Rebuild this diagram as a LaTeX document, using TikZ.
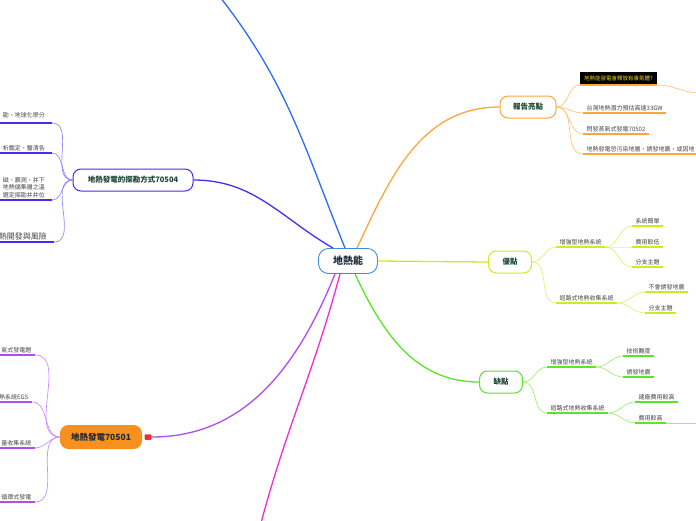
\documentclass[tikz,border=0pt]{standalone}
\usepackage{fontspec}
\setmainfont{Noto Sans CJK TC}
\usetikzlibrary{positioning, backgrounds}
\definecolor{GEblue}{HTML}{2B6CF6}
\definecolor{GEcentre}{HTML}{3F8DD6}
\definecolor{GEorange}{HTML}{FFA53A}
\definecolor{GEorangeL}{HTML}{FFC57A}
\definecolor{GElime}{HTML}{CDEB1E}
\definecolor{GElimeL}{HTML}{DDF27A}
\definecolor{GEgreen}{HTML}{58E62A}
\definecolor{GEgreenL}{HTML}{9CF07A}
\definecolor{GEviolet}{HTML}{4B2BF0}
\definecolor{GEvioletL}{HTML}{9488FF}
\definecolor{GEpurple}{HTML}{B04CF5}
\definecolor{GEpurpleL}{HTML}{C690FF}
\definecolor{GEmagenta}{HTML}{F52AD8}
\definecolor{GEfill}{HTML}{F6901E}
\definecolor{GEink}{HTML}{1E2A3A}
\definecolor{GEteal}{HTML}{1B4433}
\definecolor{GEgray}{HTML}{444444}
\definecolor{GEred}{HTML}{E8303A}
\definecolor{GEyellow}{HTML}{F2D21B}
\tikzset{
  gemain/.style={
    rectangle, rounded corners=10pt, draw=GEcentre, line width=0.9pt,
    fill=white, text=GEink, font=\fontsize{10}{12}\selectfont\bfseries,
    minimum width=59pt, minimum height=25pt},
  gebranch/.style={
    rectangle, rounded corners=8pt, draw=#1, line width=1pt, fill=white,
    text=GEteal, font=\fontsize{7.5}{9}\selectfont\bfseries, minimum height=22pt},
  gehot/.style={gebranch=GEfill, fill=GEfill, text=GEink,
    font=\fontsize{8.5}{10}\selectfont\bfseries},
  gebadge/.style={rectangle, rounded corners=1pt, fill=GEred, minimum width=7pt,
    minimum height=5.5pt, inner sep=0pt},
  gewarn/.style={fill=black, text=GEyellow, font=\fontsize{5.5}{7}\selectfont,
    inner xsep=4pt, inner ysep=4pt, anchor=south west},
  geleaf/.style={
    font=\fontsize{6}{7.5}\selectfont, text=GEgray, inner xsep=3.5pt, inner ysep=2pt,
    align=left,
    append after command={(\tikzlastnode.south west) edge[draw=#1, line width=1.5pt]
      (\tikzlastnode.south east)}},
  geleft/.style={geleaf=#1, anchor=south east, inner xsep=7pt},
  gelink/.style={draw=#1, line width=1.3pt},
  gesub/.style={draw=#1, line width=0.7pt},
}

\begin{document}
\begin{tikzpicture}[x=1pt, y=-1pt]
  \useasboundingbox (0,0) rectangle (696,520);
  % centre and main topics
  \node[gemain] (cen) at (348,261) {地熱能};
  \node[gebranch=GEorange, minimum width=56pt] (rep) at (528,107) {報告亮點};
  \node[gebranch=GElime, minimum width=43pt] (adv) at (510,262) {優點};
  \node[gebranch=GEgreen, minimum width=43pt] (dis) at (501,382) {缺點};
  \node[gebranch=GEviolet, minimum width=120pt] (survey) at (133,180) {地熱發電的探勘方式70504};
  \node[gehot, minimum width=81pt, minimum height=23pt] (plant) at (101,437) {地熱發電70501};
  \node[gebadge] (plantbadge) at (148,437) {};
  \coordinate (bluetop) at (220,-3);
  \coordinate (magbot) at (261,523);

  % 報告亮點
  \node[gewarn] (toxic) at (580,85) {地熱能發電會釋放有毒氣體?};
  \draw[gesub=GEorange, line width=1.5pt] (toxic.south west) -- (toxic.south east);
  \coordinate (toxicnext) at (700,93);
  \node[geleaf=GEorange, anchor=south west] (tw) at (583,113) {台灣地熱潛力預估高達33GW};
  \node[geleaf=GEorange, anchor=south west] (flash) at (583,134) {閃發蒸氣式發電70502};
  \node[geleaf=GEorange, anchor=south west] (risk) at (583,154) {地熱發電恐污染地層、誘發地震，或因地};

  % 優點
  \node[geleaf=GElime, anchor=south west] (advegs) at (556,247) {增強型地熱系統};
  \node[geleaf=GElime, anchor=south west] (advsimple) at (632,226) {系統簡單};
  \node[geleaf=GElime, anchor=south west] (advcost) at (632,247) {費用較低};
  \node[geleaf=GElime, anchor=south west] (advtopic) at (632,267) {分支主題};
  \node[geleaf=GElime, anchor=south west] (advloop) at (556,303) {迴路式地熱收集系統};
  \node[geleaf=GElime, anchor=south west] (advquake) at (645,292) {不會誘發地震};
  \node[geleaf=GElime, anchor=south west] (advtopicb) at (645,313) {分支主題};

  % 缺點
  \node[geleaf=GEgreen, anchor=south west] (disegs) at (547,367) {增強型地熱系統};
  \node[geleaf=GEgreen, anchor=south west] (distech) at (623,356) {技術難度};
  \node[geleaf=GEgreen, anchor=south west] (disquake) at (623,377) {誘發地震};
  \node[geleaf=GEgreen, anchor=south west] (disloop) at (547,413) {迴路式地熱收集系統};
  \node[geleaf=GEgreen, anchor=south west] (disbuild) at (635,402) {建廠費用較高};
  \node[geleaf=GEgreen, anchor=south west] (discost) at (635,423) {費用較高};
  \coordinate (discostnext) at (700,423);

  % 探勘方式
  \node[geleft=GEviolet, inner ysep=5pt] (svgeo) at (52,123) {勘、地球化學分};
  \node[geleft=GEviolet] (svlab) at (52,153) {析鑑定，釐清各};
  \node[geleft=GEviolet] (svwell) at (52,200) {磁、震測、井下\\地熱儲集層之溫\\選定探勘井井位};
  \node[geleft=GEviolet, font=\fontsize{8}{9.5}\selectfont] (svrisk) at (54,242) {熱開發與風險};

  % 地熱發電
  \node[geleaf=GEpurple, anchor=south east] (pldry) at (35,355) {氣式發電題};
  \node[geleaf=GEpurple, anchor=south east] (plegs) at (32,402) {熱系統EGS};
  \node[geleaf=GEpurple, anchor=south east] (plloop) at (35,448) {量收集系統};
  \node[geleaf=GEpurple, anchor=south east] (plbin) at (35,502) {循環式發電};

  \begin{scope}[on background layer]
    \draw[gelink=GEblue] ([xshift=-3pt]cen.north) to[out=112,in=-52] (bluetop);
    \draw[gelink=GEviolet] ([xshift=-15pt]cen.north) to[out=150,in=0] (survey.east);
    \draw[gelink=GEorange] ([xshift=9pt]cen.north) to[out=65,in=180] (rep.west);
    \draw[gelink=GElime] (cen.east) -- (adv.west);
    \draw[gelink=GEgreen] ([xshift=7pt]cen.south) to[out=-65,in=180] (dis.west);
    \draw[gelink=GEpurple] ([xshift=-13pt]cen.south) to[out=-112,in=0] (plantbadge.east);
    \draw[gelink=GEmagenta] ([xshift=-8pt]cen.south) to[out=-105,in=75] (magbot);

    \draw[gesub=GEorangeL] (rep.east) to[out=0,in=180] (toxic.south west);
    \draw[gesub=GEorangeL] (rep.east) to[out=0,in=180] (tw.south west);
    \draw[gesub=GEorangeL] (rep.east) to[out=0,in=180] (flash.south west);
    \draw[gesub=GEorangeL] (rep.east) to[out=0,in=180] (risk.south west);
    \draw[gesub=GEorangeL] (toxic.south east) to[out=0,in=180] (toxicnext);

    \draw[gesub=GElimeL] (adv.east) to[out=0,in=180] (advegs.south west);
    \draw[gesub=GElimeL] (adv.east) to[out=0,in=180] (advloop.south west);
    \draw[gesub=GElimeL] (advegs.south east) to[out=0,in=180] (advsimple.south west);
    \draw[gesub=GElimeL] (advegs.south east) to[out=0,in=180] (advcost.south west);
    \draw[gesub=GElimeL] (advegs.south east) to[out=0,in=180] (advtopic.south west);
    \draw[gesub=GElimeL] (advloop.south east) to[out=0,in=180] (advquake.south west);
    \draw[gesub=GElimeL] (advloop.south east) to[out=0,in=180] (advtopicb.south west);

    \draw[gesub=GEgreenL] (dis.east) to[out=0,in=180] (disegs.south west);
    \draw[gesub=GEgreenL] (dis.east) to[out=0,in=180] (disloop.south west);
    \draw[gesub=GEgreenL] (disegs.south east) to[out=0,in=180] (distech.south west);
    \draw[gesub=GEgreenL] (disegs.south east) to[out=0,in=180] (disquake.south west);
    \draw[gesub=GEgreenL] (disloop.south east) to[out=0,in=180] (disbuild.south west);
    \draw[gesub=GEgreenL] (disloop.south east) to[out=0,in=180] (discost.south west);
    \draw[gesub=GEgreenL] (discost.south east) -- (discostnext);

    \draw[gesub=GEvioletL] (survey.west) to[out=180,in=0] (svgeo.south east);
    \draw[gesub=GEvioletL] (survey.west) to[out=180,in=0] (svlab.south east);
    \draw[gesub=GEvioletL] (survey.west) to[out=180,in=0] (svwell.south east);
    \draw[gesub=GEvioletL] (survey.west) to[out=180,in=0] (svrisk.south east);

    \draw[gesub=GEpurpleL] (plant.west) to[out=180,in=0] (pldry.south east);
    \draw[gesub=GEpurpleL] (plant.west) to[out=180,in=0] (plegs.south east);
    \draw[gesub=GEpurpleL] (plant.west) to[out=180,in=0] (plloop.south east);
    \draw[gesub=GEpurpleL] (plant.west) to[out=180,in=0] (plbin.south east);
  \end{scope}
\end{tikzpicture}
\end{document}
